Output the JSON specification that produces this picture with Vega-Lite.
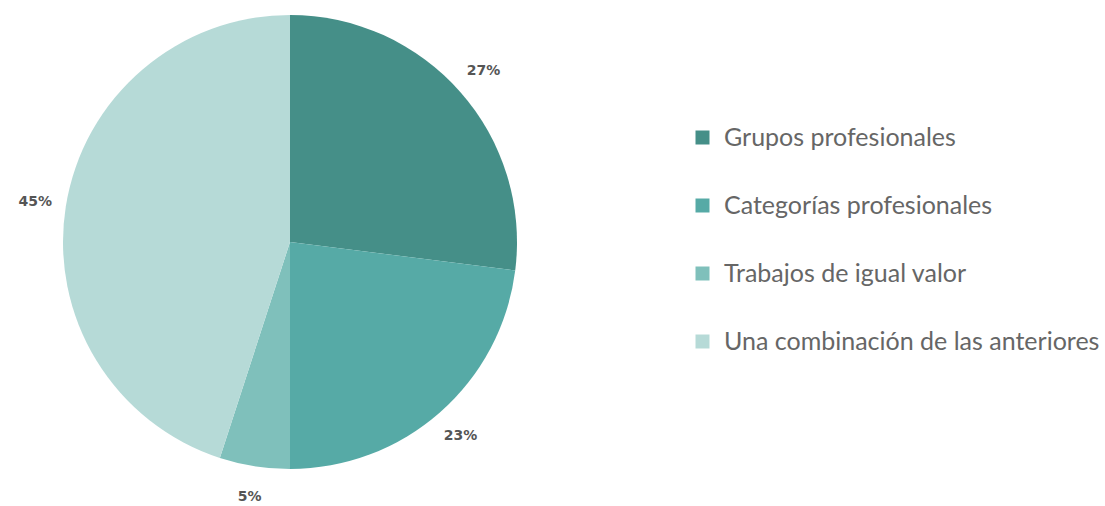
{
  "$schema": "https://vega.github.io/schema/vega-lite/v6.json",
  "width": 580,
  "height": 484,
  "padding": 0,
  "autosize": {"type": "pad"},
  "background": "white",
  "view": {"stroke": null},
  "data": {
    "values": [
      {"categoria": "Grupos profesionales", "valor": 27, "orden": 1, "etiqueta": "27%"},
      {"categoria": "Categorías profesionales", "valor": 23, "orden": 2, "etiqueta": "23%"},
      {"categoria": "Trabajos de igual valor", "valor": 5, "orden": 3, "etiqueta": "5%"},
      {"categoria": "Una combinación de las anteriores", "valor": 45, "orden": 4, "etiqueta": "45%"}
    ]
  },
  "encoding": {
    "theta": {"field": "valor", "type": "quantitative", "stack": true},
    "order": {"field": "orden", "type": "quantitative"},
    "color": {
      "field": "categoria",
      "type": "nominal",
      "sort": ["Grupos profesionales", "Categorías profesionales", "Trabajos de igual valor", "Una combinación de las anteriores"],
      "scale": {
        "domain": ["Grupos profesionales", "Categorías profesionales", "Trabajos de igual valor", "Una combinación de las anteriores"],
        "range": ["#458f88", "#56aaa6", "#7fc0bb", "#b6dad7"]
      },
      "legend": {
        "title": null,
        "orient": "none",
        "legendX": 690,
        "legendY": 125,
        "symbolType": "square",
        "symbolSize": 196,
        "symbolStrokeWidth": 0,
        "symbolOpacity": 1,
        "labelFont": "Lato",
        "labelFontSize": 25,
        "labelColor": "#666666",
        "labelOffset": 9,
        "labelLimit": 500,
        "rowPadding": 42
      }
    }
  },
  "layer": [
    {"mark": {"type": "arc", "outerRadius": 227}},
    {
      "mark": {"type": "text", "radius": 258, "font": "DejaVu Sans", "fontWeight": "bold", "fontSize": 14, "fill": "#555555"},
      "encoding": {"text": {"field": "etiqueta", "type": "nominal"}, "color": {"value": "#555555"}}
    }
  ]
}
